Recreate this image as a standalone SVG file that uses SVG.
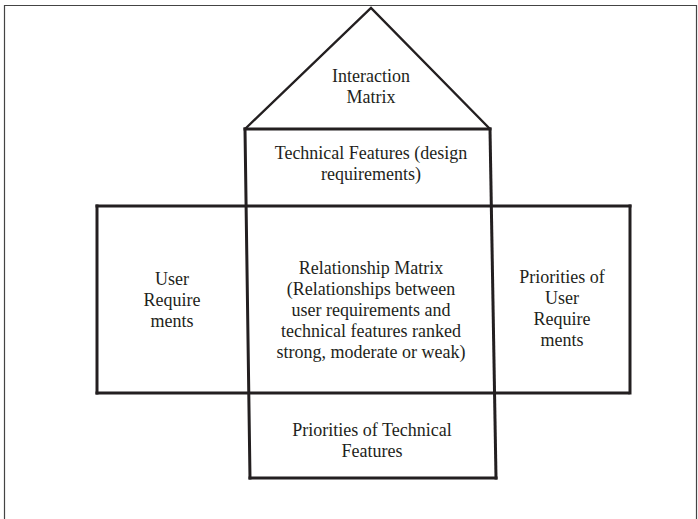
<svg xmlns="http://www.w3.org/2000/svg" width="698" height="519" viewBox="0 0 698 519">
  <style>
    .frame { fill: none; stroke: #444; stroke-width: 1.2; }
    .edge { fill: none; stroke: #231f20; stroke-width: 3; stroke-linecap: square; }
    .roof { fill: none; stroke: #231f20; stroke-width: 2.4; stroke-linejoin: miter; }
    .label { font-size: 18px; fill: #231f20; text-anchor: middle; }
  </style>
  <rect width="698" height="519" fill="#ffffff"/>
  <!-- page frame -->
  <path class="frame" d="M4.5 519 V5.5 H696.5 V519"/>

  <g id="connectors">
    <!-- roof sides -->
    <polyline class="roof" points="245,129 371,8 490,129"/>
    <!-- central column -->
    <line class="edge" x1="245" y1="129" x2="490" y2="129"/>
    <line class="edge" x1="245" y1="129" x2="250" y2="478"/>
    <line class="edge" x1="490" y1="129" x2="496" y2="478"/>
    <line class="edge" x1="250" y1="478" x2="496" y2="478"/>
    <!-- cross band -->
    <line class="edge" x1="97" y1="206" x2="630" y2="206"/>
    <line class="edge" x1="97" y1="393" x2="628" y2="393"/>
    <line class="edge" x1="97" y1="206" x2="97" y2="393"/>
    <line class="edge" x1="630" y1="206" x2="630" y2="393"/>
  </g>

  <g font-family="'Liberation Serif', 'Times New Roman', Times, serif">
    <g id="interaction-matrix">
      <text class="label" x="371" y="82">Interaction</text>
      <text class="label" x="371" y="103">Matrix</text>
    </g>

    <g id="technical-features">
      <text class="label" x="371" y="159">Technical Features (design</text>
      <text class="label" x="371" y="180">requirements)</text>
    </g>

    <g id="user-requirements">
      <text class="label" x="172" y="285">User</text>
      <text class="label" x="172" y="306">Require</text>
      <text class="label" x="172" y="327">ments</text>
    </g>

    <g id="relationship-matrix">
      <text class="label" x="371" y="274">Relationship Matrix</text>
      <text class="label" x="371" y="295">(Relationships between</text>
      <text class="label" x="371" y="316">user requirements and</text>
      <text class="label" x="371" y="337">technical features ranked</text>
      <text class="label" x="371" y="358">strong, moderate or weak)</text>
    </g>

    <g id="priorities-user">
      <text class="label" x="562" y="283">Priorities of</text>
      <text class="label" x="562" y="304">User</text>
      <text class="label" x="562" y="325">Require</text>
      <text class="label" x="562" y="346">ments</text>
    </g>

    <g id="priorities-technical">
      <text class="label" x="372" y="436">Priorities of Technical</text>
      <text class="label" x="372" y="457">Features</text>
    </g>
  </g>
</svg>
